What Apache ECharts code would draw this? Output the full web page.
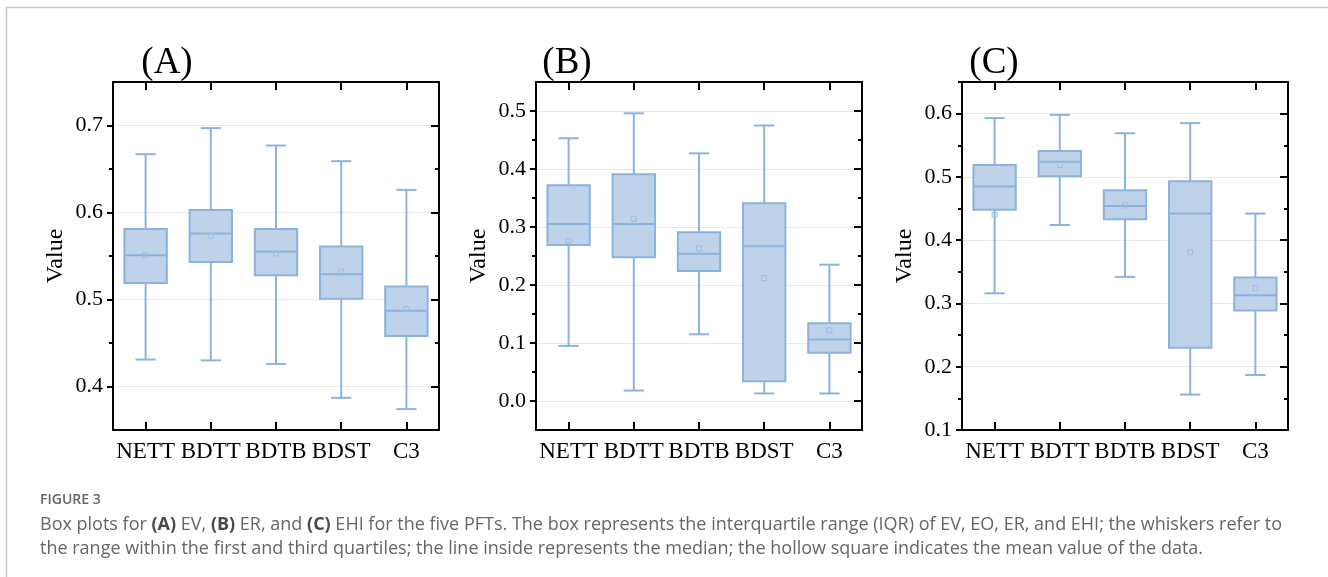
<!DOCTYPE html>
<html>
<head>
<meta charset="utf-8">
<script src="https://cdn.jsdelivr.net/npm/echarts@6/dist/echarts.min.js"></script>
<style>
  html, body { margin: 0; padding: 0; background: #ffffff; }
  #chart { width: 1328px; height: 577px; }
</style>
</head>
<body>
<div id="chart"></div>
<script>
// Plant functional types on the x axis
const categories = ['NETT', 'BDTT', 'BDTB', 'BDST', 'C3'];

// Box statistics per PFT: [min, Q1, median, Q3, max]
const evBoxes = [
  [0.431, 0.519, 0.551, 0.581, 0.667],
  [0.430, 0.543, 0.576, 0.603, 0.697],
  [0.426, 0.528, 0.555, 0.581, 0.677],
  [0.387, 0.501, 0.529, 0.561, 0.659],
  [0.374, 0.458, 0.487, 0.515, 0.626]
];
const evMeans = [0.551, 0.573, 0.553, 0.532, 0.489];

const erBoxes = [
  [0.095, 0.269, 0.305, 0.372, 0.453],
  [0.018, 0.248, 0.305, 0.391, 0.496],
  [0.115, 0.224, 0.254, 0.291, 0.427],
  [0.013, 0.034, 0.267, 0.341, 0.475],
  [0.013, 0.083, 0.106, 0.134, 0.235]
];
const erMeans = [0.276, 0.314, 0.263, 0.212, 0.122];

const ehiBoxes = [
  [0.316, 0.448, 0.485, 0.519, 0.593],
  [0.424, 0.501, 0.524, 0.541, 0.598],
  [0.342, 0.433, 0.454, 0.479, 0.569],
  [0.156, 0.230, 0.442, 0.493, 0.585],
  [0.187, 0.289, 0.313, 0.341, 0.442]
];
const ehiMeans = [0.440, 0.519, 0.455, 0.381, 0.324];

// Labelled y ticks for each panel
const evTicks = [0.4, 0.5, 0.6, 0.7];
const erTicks = [0.0, 0.1, 0.2, 0.3, 0.4, 0.5];
const ehiTicks = [0.1, 0.2, 0.3, 0.4, 0.5, 0.6];

const panelTitles = ['(A)', '(B)', '(C)'];

const FILL = '#bed2ea';
const STROKE = '#8db3dc';
const MEAN_STROKE = '#9dbde2';
const SERIF = 'Liberation Serif';

const panels = [
  { boxes: evBoxes, means: evMeans, ticks: evTicks, min: 0.35, max: 0.75, left: 113, titleX: 167 },
  { boxes: erBoxes, means: erMeans, ticks: erTicks, min: -0.05, max: 0.55, left: 536, titleX: 567 },
  { boxes: ehiBoxes, means: ehiMeans, ticks: ehiTicks, min: 0.1, max: 0.65, left: 962, titleX: 994 }
];

// Box, whiskers, caps, median and mean square for one category
function renderBox(params, api) {
  const idx = api.value(0);
  const band = api.size([1, 0])[0];
  const boxW = band * 0.65;
  const capW = band * 0.31;
  const x = api.coord([idx, api.value(3)])[0];
  const y = k => api.coord([idx, api.value(k)])[1];
  const yMin = y(1), yQ1 = y(2), yMed = y(3), yQ3 = y(4), yMax = y(5), yMean = y(6);
  const line = { stroke: STROKE, lineWidth: 2 };
  return {
    type: 'group',
    children: [
      { type: 'line', shape: { x1: x, y1: yMax, x2: x, y2: yQ3 }, style: line },
      { type: 'line', shape: { x1: x, y1: yQ1, x2: x, y2: yMin }, style: line },
      { type: 'line', shape: { x1: x - capW / 2, y1: yMax, x2: x + capW / 2, y2: yMax }, style: line },
      { type: 'line', shape: { x1: x - capW / 2, y1: yMin, x2: x + capW / 2, y2: yMin }, style: line },
      { type: 'rect', shape: { x: x - boxW / 2, y: yQ3, width: boxW, height: yQ1 - yQ3 },
        style: { fill: FILL, stroke: STROKE, lineWidth: 2 } },
      { type: 'line', shape: { x1: x - boxW / 2, y1: yMed, x2: x + boxW / 2, y2: yMed }, style: line },
      { type: 'rect', shape: { x: x - 2.5, y: yMean - 2.5, width: 5, height: 5 },
        style: { fill: 'none', stroke: MEAN_STROKE, lineWidth: 1 } }
    ]
  };
}

const grid = [], xAxis = [], yAxis = [], series = [];
const blackLine = { color: '#000', width: 2 };

panels.forEach((p, i) => {
  grid.push({ left: p.left, top: 82, width: 326, height: 348 });

  const catAxis = {
    gridIndex: i, type: 'category', data: categories, boundaryGap: true,
    axisLine: { show: true, onZero: false, lineStyle: blackLine },
    axisTick: { show: true, inside: true, length: 8, alignWithLabel: true, lineStyle: blackLine },
    splitLine: { show: false }
  };
  xAxis.push(Object.assign({}, catAxis, {
    position: 'bottom',
    axisLabel: { interval: 0, margin: 10, fontFamily: SERIF, fontSize: 23, color: '#000' }
  }));
  xAxis.push(Object.assign({}, catAxis, { position: 'top', axisLabel: { show: false } }));

  const valAxis = {
    gridIndex: i, type: 'value', min: p.min, max: p.max,
    axisLine: { show: true, onZero: false, lineStyle: blackLine },
    minorTick: { show: true, splitNumber: 2, length: 4, lineStyle: blackLine },
    minorSplitLine: { show: false }
  };
  yAxis.push(Object.assign({}, valAxis, {
    position: 'left',
    axisTick: { show: true, inside: false, length: 6, customValues: p.ticks, lineStyle: blackLine },
    axisLabel: { customValues: p.ticks, formatter: v => v.toFixed(1), margin: 10,
                 fontFamily: SERIF, fontSize: 22, color: '#000' },
    splitLine: { show: true, lineStyle: { color: '#e8e8e8', width: 1 } },
    name: 'Value', nameLocation: 'middle', nameGap: 45,
    nameTextStyle: { fontFamily: SERIF, fontSize: 24, color: '#000' }
  }));
  yAxis.push(Object.assign({}, valAxis, {
    position: 'right',
    axisTick: { show: true, inside: true, length: 8, customValues: p.ticks, lineStyle: blackLine },
    axisLabel: { show: false },
    splitLine: { show: false }
  }));

  const rows = categories.map((c, k) => [k].concat(p.boxes[k], [p.means[k]]));
  series.push({
    type: 'custom', xAxisIndex: i * 2, yAxisIndex: i * 2,
    renderItem: renderBox, data: rows, silent: true,
    encode: { x: 0, y: [1, 2, 3, 4, 5, 6] }
  });
});

const CAPTION_GREY = '#666666';
const graphic = [
  // page frame
  { type: 'line', shape: { x1: 6, y1: 7.5, x2: 1328, y2: 7.5 }, style: { stroke: '#c9c9c9', lineWidth: 1.5 } },
  { type: 'line', shape: { x1: 6.5, y1: 7, x2: 6.5, y2: 577 }, style: { stroke: '#c9c9c9', lineWidth: 1.5 } },
  // caption
  { type: 'text', x: 40, y: 500,
    style: { text: 'FIGURE 3', font: '600 14px "Open Sans"', fill: CAPTION_GREY, verticalAlign: 'middle' } },
  { type: 'text', x: 40, y: 525,
    style: {
      text: 'Box plots for {b|(A)} EV, {b|(B)} ER, and {b|(C)} EHI for the five PFTs. The box represents the interquartile range (IQR) of EV, EO, ER, and EHI; the whiskers refer to',
      font: '18px "Open Sans"', fill: CAPTION_GREY, verticalAlign: 'middle',
      rich: { b: { font: '700 18px "Open Sans"', fill: '#4a4a4a' } }
    } },
  { type: 'text', x: 40, y: 549,
    style: {
      text: 'the range within the first and third quartiles; the line inside represents the median; the hollow square indicates the mean value of the data.',
      font: '18px "Open Sans"', fill: CAPTION_GREY, verticalAlign: 'middle'
    } }
];
panels.forEach((p, i) => {
  graphic.push({ type: 'text', x: p.titleX, y: 63,
    style: { text: panelTitles[i], font: '37px "Liberation Serif"', fill: '#000',
             align: 'center', verticalAlign: 'middle' } });
});

const chart = echarts.init(document.getElementById('chart'), null, { renderer: 'canvas' });
chart.setOption({
  animation: false,
  backgroundColor: '#ffffff',
  grid, xAxis, yAxis, series, graphic
});
</script>
</body>
</html>
